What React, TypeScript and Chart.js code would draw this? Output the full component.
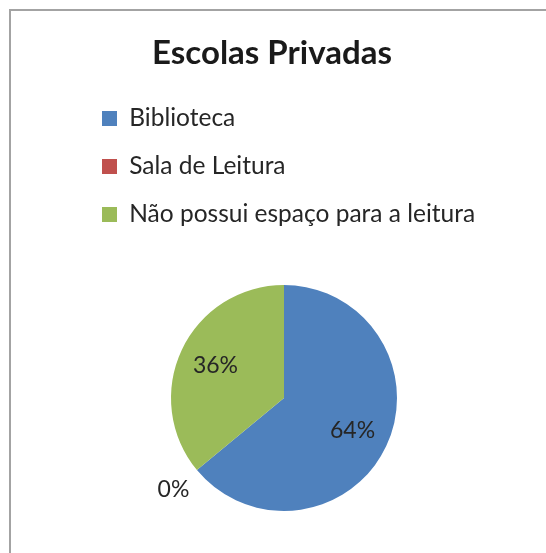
import React, { useEffect, useRef } from "react";
import { Chart, registerables } from "chart.js";

Chart.register(...registerables);

const title = "Escolas Privadas";
const categories = ["Biblioteca", "Sala de Leitura", "Não possui espaço para a leitura"];
const values = [64, 0, 36];
const colors = ["#4F81BD", "#C0504D", "#9BBB59"];

const FONT = "Lato, 'Open Sans', sans-serif";

const pieLabels = {
  id: "pieLabels",
  afterDatasetsDraw(chart: any) {
    const ctx = chart.ctx;
    const meta = chart.getDatasetMeta(0);
    const data = chart.data.datasets[0].data as number[];
    ctx.save();
    ctx.font = `23px ${FONT}`;
    ctx.fillStyle = "#262626";
    ctx.textAlign = "center";
    ctx.textBaseline = "middle";
    meta.data.forEach((arc: any, i: number) => {
      const { x, y, startAngle, endAngle, outerRadius } = arc.getProps(
        ["x", "y", "startAngle", "endAngle", "outerRadius"],
        true
      );
      const mid = (startAngle + endAngle) / 2;
      const v = data[i];
      const d = v === 0 ? outerRadius * 1.27 : outerRadius * 0.67;
      ctx.fillText(`${v}%`, x + Math.cos(mid) * d, y + Math.sin(mid) * d);
    });
    ctx.restore();
  },
};

export default function App() {
  const ref = useRef<HTMLCanvasElement>(null);
  useEffect(() => {
    document.body.style.overflow = "hidden";
    const chart = new Chart(ref.current!, {
      type: "pie",
      data: {
        labels: categories,
        datasets: [
          {
            data: values,
            backgroundColor: colors,
            borderWidth: 0,
            radius: 113,
          },
        ],
      },
      options: {
        responsive: false,
        animation: false,
        devicePixelRatio: 1,
        layout: { padding: { left: 54.5, right: 56.5, top: 0, bottom: 0 } },
        plugins: {
          title: {
            display: true,
            text: title,
            color: "#1a1a1a",
            font: { family: FONT, size: 33, weight: "bold", lineHeight: 1.2 },
            padding: { top: 33.7, bottom: 7.7 },
          },
          subtitle: {
            display: true,
            position: "left",
            text: "",
            font: { size: 10, lineHeight: 1.2 },
            padding: 6,
          },
          legend: {
            display: true,
            position: "chartArea",
            align: "start",
            title: {
              display: true,
              text: "",
              font: { size: 10, lineHeight: 1.2 },
              padding: { top: 70.75, bottom: 0 },
            },
            labels: {
              boxWidth: 15,
              boxHeight: 15,
              padding: 23.5,
              color: "#262626",
              font: { family: FONT, size: 24.5 },
            },
          },
          tooltip: { enabled: false },
        },
      },
      plugins: [pieLabels],
    });
    return () => chart.destroy();
  }, []);

  return (
    <div
      style={{
        position: "fixed",
        left: 0,
        top: 0,
        width: 546,
        height: 553,
        overflow: "hidden",
        background: "#fff",
      }}
    >
      <div
        style={{
          position: "absolute",
          left: 9,
          top: 9,
          width: 600,
          height: 600,
          border: "2px solid #a3a3a3",
        }}
      />
      <canvas
        ref={ref}
        width={546}
        height={715}
        style={{ position: "absolute", left: 0, top: 0, width: 546, height: 715, display: "block" }}
      />
    </div>
  );
}
